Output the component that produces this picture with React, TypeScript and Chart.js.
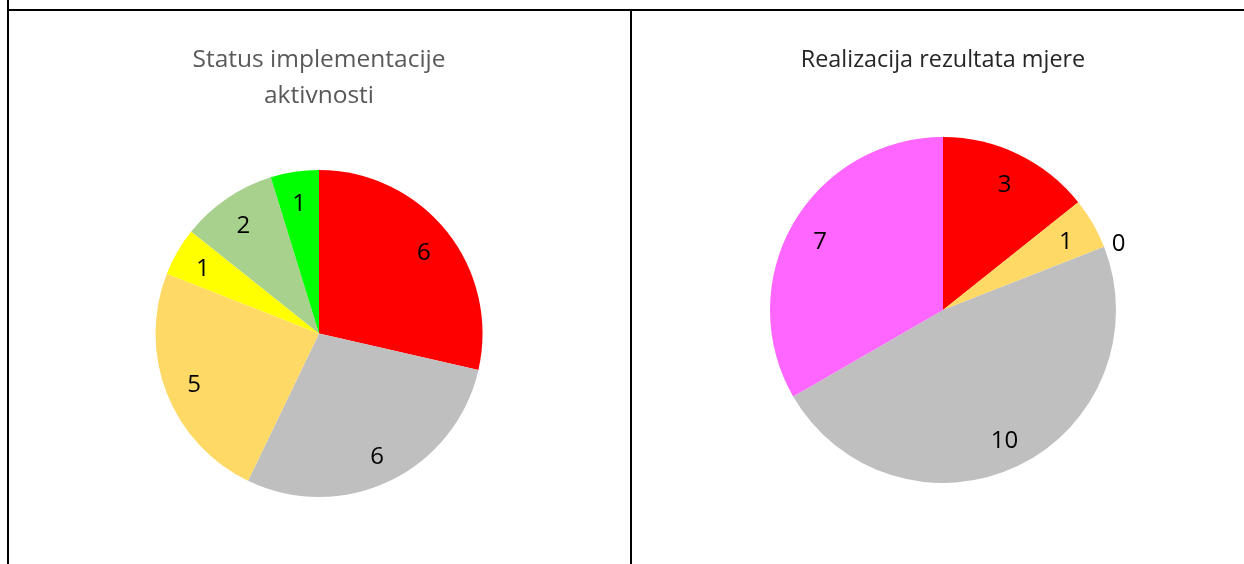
import React, { useEffect, useRef } from "react";
import { Chart, registerables } from "chart.js";

Chart.register(...registerables);

const leftTitle = ["Status implementacije", "aktivnosti"];
const leftCategories = ["Crveno", "Sivo", "Narančasto", "Žuto", "Svijetlo zeleno", "Zeleno"];
const leftValues = [6, 6, 5, 1, 2, 1];
const leftColors = ["#FF0000", "#BFBFBF", "#FFD966", "#FFFF00", "#A9D18E", "#00FF00"];

const rightTitle = "Realizacija rezultata mjere";
const rightCategories = ["Crveno", "Narančasto", "Zeleno", "Sivo", "Ljubičasto"];
const rightValues = [3, 1, 0, 10, 7];
const rightColors = ["#FF0000", "#FFD966", "#00B050", "#BFBFBF", "#FF66FF"];

const FONT = "'Open Sans', 'Noto Sans', sans-serif";

const valueLabels = {
  id: "valueLabels",
  afterDatasetsDraw(chart: any) {
    const ctx = chart.ctx;
    const meta = chart.getDatasetMeta(0);
    const data = chart.data.datasets[0].data as number[];
    ctx.save();
    ctx.font = `24px ${FONT}`;
    ctx.fillStyle = "#000000";
    ctx.textAlign = "center";
    ctx.textBaseline = "middle";
    meta.data.forEach((arc: any, i: number) => {
      const p = arc.getProps(["x", "y", "startAngle", "endAngle", "outerRadius"], true);
      const mid = (p.startAngle + p.endAngle) / 2;
      const f = data[i] === 0 ? 1.09 : 0.82;
      const r = p.outerRadius * f;
      const x = p.x + Math.cos(mid) * r;
      const y = p.y + Math.sin(mid) * r + 3;
      ctx.fillText(String(data[i]), x, y);
    });
    ctx.restore();
  },
};

function PieCanvas(props: {
  labels: string[];
  values: number[];
  colors: string[];
  title: string | string[];
  titleColor: string;
  titleSize: number;
  padding: { top: number; bottom: number; left: number; right: number };
  titlePad: { top: number; bottom: number };
  style: React.CSSProperties;
  width: number;
  height: number;
}) {
  const ref = useRef<HTMLCanvasElement>(null);
  useEffect(() => {
    if (!ref.current) return;
    const chart = new Chart(ref.current, {
      type: "pie",
      data: {
        labels: props.labels,
        datasets: [
          {
            data: props.values,
            backgroundColor: props.colors,
            borderWidth: 0,
          },
        ],
      },
      options: {
        responsive: false,
        animation: false,
        layout: { padding: props.padding },
        plugins: {
          legend: { display: false },
          tooltip: { enabled: false },
          title: {
            display: true,
            text: props.title,
            color: props.titleColor,
            font: { family: FONT, size: props.titleSize, weight: "normal", lineHeight: 36 / props.titleSize },
            padding: props.titlePad,
          },
        },
      },
      plugins: [valueLabels],
    });
    return () => chart.destroy();
  }, []);
  return <canvas ref={ref} width={props.width} height={props.height} style={props.style} />;
}

export default function App() {
  return (
    <div
      style={{
        position: "absolute",
        left: 0,
        top: 0,
        width: 1244,
        height: 564,
        overflow: "hidden",
        background: "#ffffff",
      }}
    >
      <div style={{ position: "absolute", left: 7, top: 0, width: 2, height: 564, background: "#000" }} />
      <div style={{ position: "absolute", left: 7, top: 9, width: 1237, height: 2, background: "#000" }} />
      <div style={{ position: "absolute", left: 630, top: 9, width: 2, height: 555, background: "#000" }} />
      <PieCanvas
        labels={leftCategories}
        values={leftValues}
        colors={leftColors}
        title={leftTitle}
        titleColor="#595959"
        titleSize={24.5}
        width={621}
        height={553}
        padding={{ top: 0, bottom: 67, left: 0, right: 1 }}
        titlePad={{ top: 31, bottom: 56 }}
        style={{ position: "absolute", left: 9, top: 11, width: 621, height: 553 }}
      />
      <PieCanvas
        labels={rightCategories}
        values={rightValues}
        colors={rightColors}
        title={rightTitle}
        titleColor="#262626"
        titleSize={23.4}
        width={611}
        height={553}
        padding={{ top: 0, bottom: 81, left: 11, right: 0 }}
        titlePad={{ top: 31, bottom: 59 }}
        style={{ position: "absolute", left: 632, top: 11, width: 611, height: 553 }}
      />
    </div>
  );
}
